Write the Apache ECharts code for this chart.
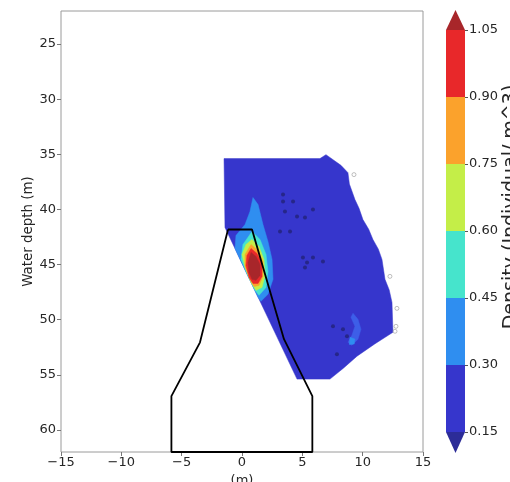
<!DOCTYPE html>
<html>
<head>
<meta charset="utf-8">
<script src="https://cdn.jsdelivr.net/npm/echarts@6/dist/echarts.min.js"></script>
<style>
  html, body { margin: 0; padding: 0; background: #fff; }
  #chart { width: 510px; height: 482px; }
</style>
</head>
<body>
<div id="chart"></div>
<script>
// ticks
const yTickValues = [25, 30, 35, 40, 45, 50, 55, 60];
const levels = [0.15, 0.30, 0.45, 0.60, 0.75, 0.90, 1.05];

// contour colours (under, 6 bands, over)
const underColor = '#2c2c98';
const bandColors = ['#3636cc', '#2f8ef0', '#46e4cc', '#c4ee48', '#fba22c', '#e8282a'];
const overColor = '#a8262a';

// sampled region (lowest band)
const domain = [
  [-1.49, 35.39], [6.46, 35.39], [6.96, 35.03], [8.2, 36.0], [8.78, 36.66], [8.9, 37.7],
  [9.36, 39.10], [9.7, 39.9], [10.02, 40.91], [10.5, 41.8], [10.85, 42.72], [11.3, 43.6],
  [11.60, 44.53], [11.85, 46.34], [12.2, 47.3], [12.43, 48.43], [12.51, 51.14],
  [11.0, 52.2], [9.53, 53.31], [8.4, 54.4], [7.29, 55.39], [4.56, 55.39], [-1.41, 41.64]
];

// hotspot near the wall
const band2 = [
  [0.91, 38.92], [1.33, 39.56], [1.74, 41.37], [2.15, 42.90], [2.49, 44.53], [2.57, 46.34],
  [2.15, 47.70], [1.57, 48.33], [1.33, 47.97], [0.66, 46.43], [-0.08, 44.71], [-0.58, 43.54],
  [-0.50, 42.36], [0.25, 41.37], [0.66, 40.19]
];
const band3 = [
  [0.83, 42.00], [1.49, 42.72], [1.99, 44.08], [2.15, 45.62], [1.99, 47.07], [1.41, 47.79],
  [1.08, 47.34], [0.41, 45.80], [-0.08, 44.53], [0.08, 43.18]
];
const band4 = [
  [0.83, 42.72], [1.41, 43.36], [1.82, 44.53], [1.91, 45.98], [1.66, 47.07], [1.16, 47.34],
  [0.75, 46.62], [0.25, 45.26], [0.00, 44.08], [0.33, 43.18]
];
const band5 = [
  [0.75, 43.18], [1.33, 43.72], [1.74, 44.71], [1.74, 46.07], [1.41, 46.89], [0.99, 46.98],
  [0.66, 46.34], [0.25, 45.17], [0.25, 44.08]
];
const band6 = [
  [0.75, 43.54], [1.24, 43.99], [1.66, 44.90], [1.66, 46.07], [1.33, 46.71], [0.91, 46.71],
  [0.58, 46.16], [0.33, 45.08], [0.41, 44.17]
];
const bandOver = [
  [0.75, 43.90], [1.16, 44.26], [1.49, 44.99], [1.49, 45.98], [1.16, 46.43], [0.83, 46.34],
  [0.58, 45.71], [0.50, 44.81]
];
// faint patch lower right
const crescent = [
  [9.20, 49.42], [9.61, 49.96], [9.86, 50.87], [9.61, 51.77], [9.11, 52.32], [8.78, 52.05],
  [9.11, 51.41], [9.36, 50.60], [9.03, 49.78]
];
const crescentSpot = [[8.95, 51.6], [9.35, 51.75], [9.3, 52.2], [8.9, 52.25]];

// structure outline
const wall = [
  [-1.16, 41.82], [0.83, 41.82], [3.48, 51.77], [5.83, 56.93], [5.83, 62],
  [-5.85, 62], [-5.85, 56.93], [-3.48, 52.05], [-1.16, 41.82]
];

// dark detections
const detections = [
  [3.40, 38.65], [3.40, 39.28], [4.23, 39.28], [3.56, 40.19], [4.56, 40.64], [5.22, 40.73],
  [5.88, 40.01], [3.98, 42.00], [3.15, 42.00], [5.05, 44.35], [5.22, 45.26], [5.88, 44.35],
  [5.39, 44.81], [6.71, 44.71], [7.54, 50.60], [8.37, 50.87], [8.70, 51.50], [7.87, 53.13]
];
// grey markers at the edge
const edgeMarks = [[9.28, 36.84], [12.26, 46.07], [12.84, 48.97], [12.76, 50.60], [12.68, 51.05]];

const font = 'DejaVu Sans';
const txt = '#262626';
const minus = v => (v < 0 ? '\u2212' + (-v) : String(v));

const poly = (pts, color, z) => ({
  type: 'custom',
  coordinateSystem: 'cartesian2d',
  xAxisIndex: 0, yAxisIndex: 0,
  clip: true,
  z: z,
  silent: true,
  data: [0],
  renderItem: (params, api) => ({
    type: 'polygon',
    shape: { points: pts.map(p => api.coord(p)) },
    style: { fill: color, stroke: color, lineWidth: 0.5 }
  })
});

// colour bar pieces
const cbBands = bandColors.map((c, i) => [levels[i], levels[i + 1], c]);

const chart = echarts.init(document.getElementById('chart'), null, { renderer: 'canvas' });

chart.setOption({
  backgroundColor: '#fff',
  animation: false,
  grid: [
    { left: 61, top: 11, width: 362, height: 441, outerBoundsMode: 'none', containLabel: false,
      show: true, borderColor: '#9a9a9a', borderWidth: 1, backgroundColor: 'transparent' },
    { left: 446, top: 30, width: 19, height: 402, outerBoundsMode: 'none', containLabel: false }
  ],
  xAxis: [
    {
      type: 'value', gridIndex: 0, min: -15, max: 15, interval: 5,
      name: '(m)', nameLocation: 'middle', nameGap: 15,
      nameTextStyle: { fontFamily: font, fontSize: 13, color: txt },
      axisLine: { show: false, onZero: false },
      axisTick: { show: true, length: 4, lineStyle: { color: '#777' } },
      axisLabel: { fontFamily: font, fontSize: 13, color: txt, margin: 4, formatter: minus },
      splitLine: { show: false }
    },
    { type: 'value', gridIndex: 1, min: 0, max: 1, show: false }
  ],
  yAxis: [
    {
      type: 'value', gridIndex: 0, min: 22, max: 62, inverse: true,
      name: 'Water depth (m)', nameLocation: 'middle', nameGap: 26, nameMoveOverlap: false,
      nameTextStyle: { fontFamily: font, fontSize: 13.4, color: txt },
      axisLine: { show: false, onZero: false },
      axisTick: { show: true, length: 4, customValues: yTickValues, lineStyle: { color: '#777' } },
      axisLabel: { fontFamily: font, fontSize: 13, color: txt, margin: 5, customValues: yTickValues },
      splitLine: { show: false }
    },
    {
      type: 'value', gridIndex: 1, min: 0.15, max: 1.05, interval: 0.15, position: 'right',
      name: 'Density (Individual/ m^3)', nameLocation: 'middle', nameGap: 36, nameRotate: 90,
      nameTextStyle: { fontFamily: font, fontSize: 19, color: txt, padding: [0, 0, 0, 48] },
      axisLine: { show: false, onZero: false },
      axisTick: { show: true, length: 3, lineStyle: { color: '#555' } },
      axisLabel: { fontFamily: font, fontSize: 13, color: txt, margin: 4, formatter: v => v.toFixed(2) },
      splitLine: { show: false }
    }
  ],
  series: [
    poly(domain, bandColors[0], 1),
    poly(band2, bandColors[1], 2),
    poly(crescent, '#3d5ee8', 2),
    poly(crescentSpot, bandColors[1], 2),
    poly(band3, bandColors[2], 3),
    poly(band4, bandColors[3], 4),
    poly(band5, bandColors[4], 5),
    poly(band6, bandColors[5], 6),
    poly(bandOver, overColor, 7),
    {
      type: 'scatter', xAxisIndex: 0, yAxisIndex: 0, z: 8, silent: true,
      symbolSize: 4, itemStyle: { color: '#1c1c5c', opacity: 0.6 },
      data: detections
    },
    {
      type: 'scatter', xAxisIndex: 0, yAxisIndex: 0, z: 8, silent: true,
      symbolSize: 4, itemStyle: { color: 'transparent', borderColor: '#9a9a9a', borderWidth: 0.8 },
      data: edgeMarks
    },
    {
      type: 'line', xAxisIndex: 0, yAxisIndex: 0, z: 9, silent: true,
      showSymbol: false, clip: false,
      lineStyle: { color: '#000', width: 1.8 },
      data: wall
    },
    {
      type: 'custom', xAxisIndex: 1, yAxisIndex: 1, clip: false, silent: true,
      data: cbBands,
      renderItem: (params, api) => {
        const a = api.coord([0, api.value(0)]);
        const b = api.coord([1, api.value(1)]);
        return {
          type: 'rect',
          shape: { x: a[0], y: b[1], width: b[0] - a[0], height: a[1] - b[1] },
          style: { fill: cbBands[params.dataIndex][2] }
        };
      }
    },
    {
      type: 'custom', xAxisIndex: 1, yAxisIndex: 1, clip: false, silent: true,
      data: [[1.05, 1.095], [0.15, 0.103]],
      renderItem: (params, api) => {
        const base = api.value(0), tip = api.value(1);
        const col = params.dataIndex === 0 ? overColor : underColor;
        return {
          type: 'polygon',
          shape: { points: [api.coord([0, base]), api.coord([1, base]), api.coord([0.5, tip])] },
          style: { fill: col }
        };
      }
    }
  ]
});
</script>
</body>
</html>
